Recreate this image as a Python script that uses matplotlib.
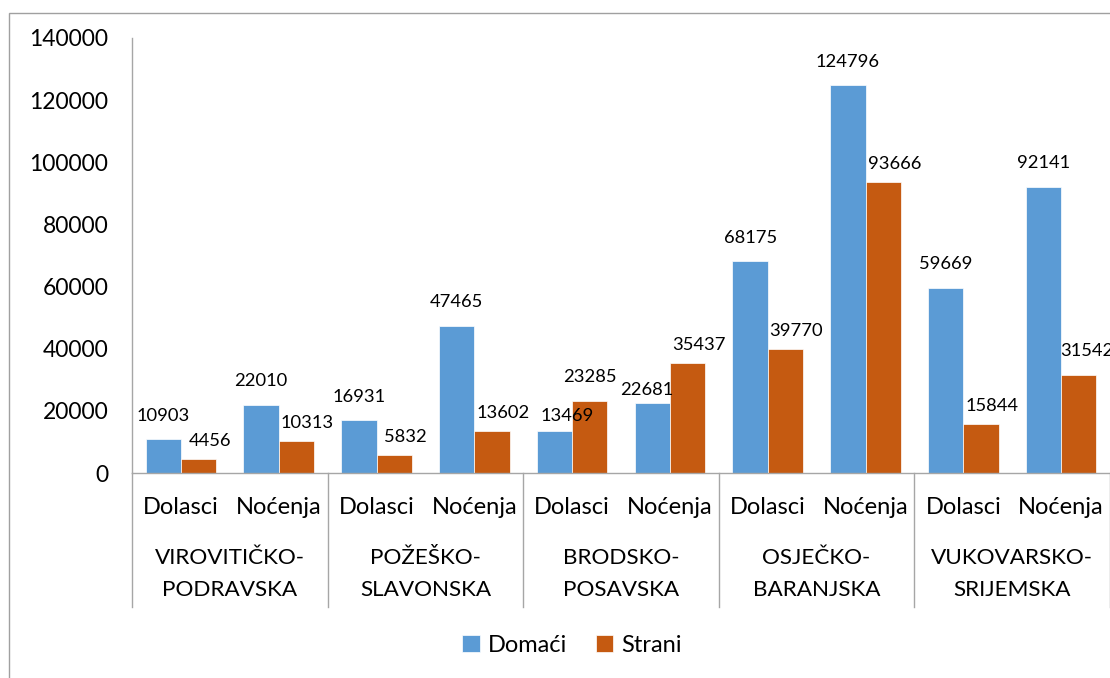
import numpy as np
import matplotlib
matplotlib.use("Agg")
import matplotlib.pyplot as plt
import matplotlib.transforms as mtransforms
from matplotlib.patches import Rectangle

plt.rcParams['font.family'] = ['Lato', 'DejaVu Sans']

# data
regions = ['VIROVITIČKO-\nPODRAVSKA', 'POŽEŠKO-\nSLAVONSKA', 'BRODSKO-\nPOSAVSKA',
           'OSJEČKO-\nBARANJSKA', 'VUKOVARSKO-\nSRIJEMSKA']
kinds = ['Dolasci', 'Noćenja']
domaci = [10903, 22010, 16931, 47465, 13469, 22681, 68175, 124796, 59669, 92141]
strani = [4456, 10313, 5832, 13602, 23285, 35437, 39770, 93666, 15844, 31542]
y_ticks = [0, 20000, 40000, 60000, 80000, 100000, 120000, 140000]

blue = '#5B9BD5'
orange = '#C55A11'
gray = '#a6a6a6'

fig = plt.figure(figsize=(11.1, 6.78), dpi=100)
ax = fig.add_axes([132 / 1110, 205 / 678, 978 / 1110, 435 / 678])

# outer chart border (partly cut off like the original)
fig.patches.append(Rectangle((9 / 1110, -0.1), 1.2, (678 - 13) / 678 + 0.1,
                             transform=fig.transFigure, fill=False,
                             edgecolor='#a0a0a0', linewidth=1.0))

x = np.arange(len(domaci))
w = 0.36
b1 = ax.bar(x - w / 2, domaci, w, color=blue, edgecolor='white', linewidth=0.5, label='Domaći')
b2 = ax.bar(x + w / 2, strani, w, color=orange, edgecolor='white', linewidth=0.5, label='Strani')

ax.set_xlim(-0.5, len(domaci) - 0.5)
ax.set_ylim(0, 140000)
ax.set_yticks(y_ticks)
ax.set_yticklabels([str(v) for v in y_ticks], fontsize=16.5)
ax.tick_params(axis='y', length=0, pad=17)
ax.set_xticks([])

for s in ['top', 'right']:
    ax.spines[s].set_visible(False)
for s in ['left', 'bottom']:
    ax.spines[s].set_color(gray)
    ax.spines[s].set_linewidth(1.0)

# data labels (offsets in points, Excel nudged a few of them)
nudge_blue = {4: (9, 11), 5: (-4, 9)}
nudge_orange = {4: (0, 17), 9: (6, 17)}
for i, v in enumerate(domaci):
    dx, dy = nudge_blue.get(i, (0, 17))
    ax.annotate(str(v), (x[i] - w / 2, v), xytext=(dx, dy), textcoords='offset points',
                ha='center', va='center', fontsize=13.2, annotation_clip=False)
for i, v in enumerate(strani):
    dx, dy = nudge_orange.get(i, (8, 13))
    ax.annotate(str(v), (x[i] + w / 2, v), xytext=(dx, dy), textcoords='offset points',
                ha='center', va='center', fontsize=13.2, annotation_clip=False)

# two level category axis
trans = mtransforms.blended_transform_factory(ax.transData, ax.transAxes)
sep_bottom = -(607 - 473) / 435
for k in range(len(regions) + 1):
    ax.plot([2 * k - 0.5] * 2, [0, sep_bottom], transform=trans, color=gray,
            linewidth=1.0, clip_on=False)
for i in x:
    ax.text(i, -(507 - 473) / 435, kinds[i % 2], transform=trans,
            ha='center', va='center', fontsize=17)
for j, name in enumerate(regions):
    for k, line in enumerate(name.split('\n')):
        ax.text(2 * j + 0.5, -(558 + 32 * k - 473) / 435, line, transform=trans,
                ha='center', va='center', fontsize=16.2)

fig.legend(handles=[b1, b2], loc='center', bbox_to_anchor=(572 / 1110, 1 - 645 / 678),
           ncol=2, frameon=False, fontsize=17, handlelength=0.75, handleheight=0.75,
           handletextpad=0.35, columnspacing=1.2)

fig.savefig('out.png', dpi=100)
